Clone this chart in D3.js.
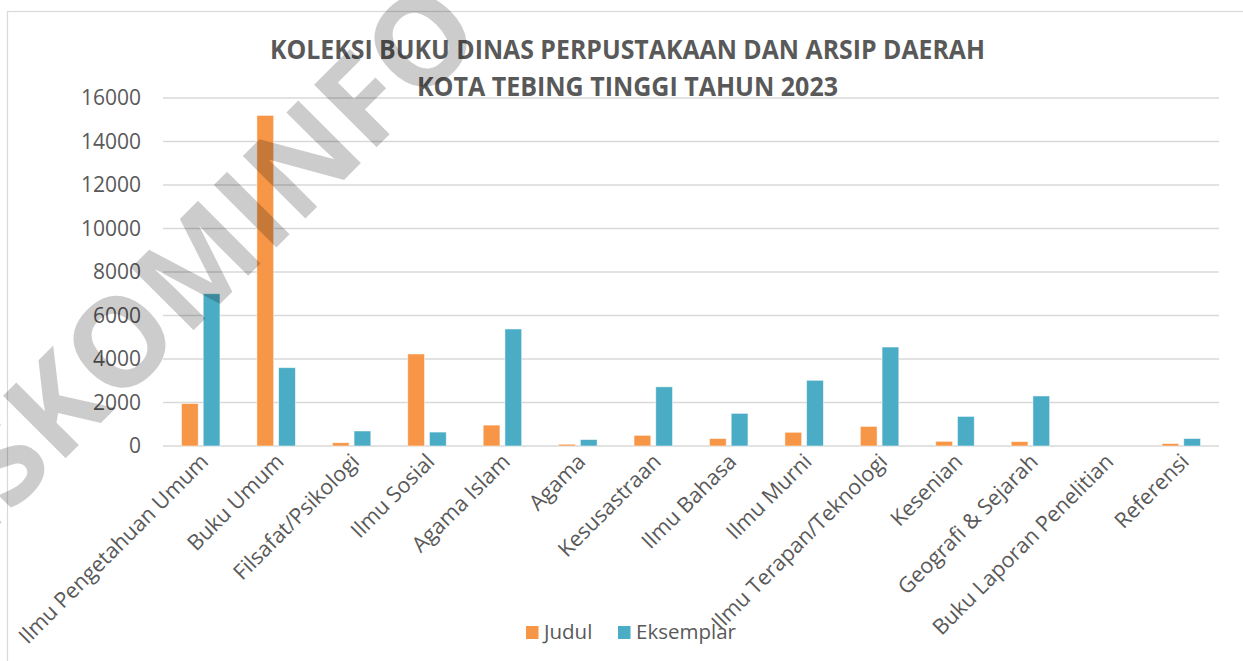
<!DOCTYPE html>
<html>
<head>
<meta charset="utf-8">
<script src="https://cdn.jsdelivr.net/npm/d3@7"></script>
<style>
  html, body { margin: 0; padding: 0; background: #fff; }
  svg { display: block; font-family: "Open Sans", sans-serif; }
</style>
</head>
<body>
<div id="chart"></div>
<script>
// data
const categories = [
  "Ilmu Pengetahuan Umum", "Buku Umum", "Filsafat/Psikologi", "Ilmu Sosial",
  "Agama Islam", "Agama", "Kesusastraan", "Ilmu Bahasa", "Ilmu Murni",
  "Ilmu Terapan/Teknologi", "Kesenian", "Geografi & Sejarah",
  "Buku Laporan Penelitian", "Referensi"
];
const judul     = [1950, 15200, 150, 4230, 960, 80, 490, 340, 630, 900, 215, 200, 0, 110];
const eksemplar = [7000, 3600, 690, 640, 5380, 295, 2720, 1500, 3020, 4550, 1360, 2300, 0, 340];
const seriesNames = ["Judul", "Eksemplar"];
const seriesColors = ["#F79646", "#4BACC6"];
const yTicks = [0, 2000, 4000, 6000, 8000, 10000, 12000, 14000, 16000];
const titleLines = [
  "KOLEKSI BUKU DINAS PERPUSTAKAAN DAN ARSIP DAERAH",
  "KOTA TEBING TINGGI TAHUN 2023"
];

const width = 1243, height = 661;
const margin = {top: 98, right: 24, bottom: 215, left: 163};

const svg = d3.select("#chart").append("svg")
    .attr("width", width)
    .attr("height", height)
    .attr("viewBox", `0 0 ${width} ${height}`);

// chart frame
svg.append("rect")
    .attr("x", 7.5).attr("y", 11.5)
    .attr("width", width + 20).attr("height", height + 20)
    .attr("fill", "#fff")
    .attr("stroke", "#d9d9d9")
    .attr("stroke-width", 1.2);

const x0 = d3.scaleBand()
    .domain(categories)
    .range([margin.left, width - margin.right])
    .paddingInner(0.49)
    .paddingOuter(0.245);

const x1 = d3.scaleBand()
    .domain(seriesNames)
    .range([0, x0.bandwidth()])
    .paddingInner(0.23);

const y = d3.scaleLinear()
    .domain([0, 16000])
    .range([height - margin.bottom, margin.top]);

// gridlines
svg.append("g")
    .selectAll("line")
    .data(yTicks)
    .join("line")
    .attr("x1", margin.left).attr("x2", width - margin.right)
    .attr("y1", d => y(d)).attr("y2", d => y(d))
    .attr("stroke", "#d9d9d9")
    .attr("stroke-width", 1.5);

// y axis labels
const yAxis = svg.append("g")
    .attr("transform", `translate(${margin.left - 22},0)`)
    .call(d3.axisLeft(y).tickValues(yTicks).tickSize(0).tickPadding(0).tickFormat(d3.format("d")));
yAxis.select(".domain").remove();
yAxis.selectAll("text")
    .attr("fill", "#595959")
    .style("font-size", "21px")
    .style("font-family", "'Open Sans', sans-serif");

// bars
const rows = categories.map((c, i) => ({cat: c, values: [judul[i], eksemplar[i]]}));
const groups = svg.append("g")
    .selectAll("g")
    .data(rows)
    .join("g")
    .attr("transform", d => `translate(${x0(d.cat)},0)`);

groups.selectAll("rect")
    .data(d => d.values.map((v, k) => ({name: seriesNames[k], value: v, color: seriesColors[k]})))
    .join("rect")
    .attr("x", d => x1(d.name))
    .attr("y", d => y(d.value))
    .attr("width", x1.bandwidth())
    .attr("height", d => y(0) - y(d.value))
    .attr("fill", d => d.color)
    .attr("stroke", "#fff")
    .attr("stroke-opacity", 0.6)
    .attr("stroke-width", 0.8);

// category labels, rotated
svg.append("g")
    .selectAll("text")
    .data(categories)
    .join("text")
    .attr("transform", d => `translate(${x0(d) + x0.bandwidth() / 2 - 2},${y(0) + 6}) rotate(-45)`)
    .attr("text-anchor", "end")
    .attr("dy", "0.72em")
    .attr("fill", "#595959")
    .style("font-size", "21.5px")
    .text(d => d);

// title
svg.append("g")
    .selectAll("text")
    .data(titleLines)
    .join("text")
    .attr("x", 627.5)
    .attr("y", (d, i) => 59 + i * 37)
    .attr("text-anchor", "middle")
    .attr("fill", "#595959")
    .attr("font-weight", "bold")
    .attr("textLength", (d, i) => i === 0 ? 715 : 421)
    .attr("lengthAdjust", "spacingAndGlyphs")
    .style("font-size", "26px")
    .text(d => d);

// legend
const legendItems = [
  {name: "Judul", color: seriesColors[0], x: 526},
  {name: "Eksemplar", color: seriesColors[1], x: 618}
];
const legend = svg.append("g");
legend.selectAll("rect")
    .data(legendItems)
    .join("rect")
    .attr("x", d => d.x).attr("y", 626)
    .attr("width", 12.5).attr("height", 13)
    .attr("fill", d => d.color);
legend.selectAll("text")
    .data(legendItems)
    .join("text")
    .attr("x", d => d.x + 18)
    .attr("y", 639)
    .attr("fill", "#595959")
    .style("font-size", "20.5px")
    .text(d => d.name);

// watermark overlay, first "O" left edge sits at the group origin
const wm = svg.append("g")
    .attr("transform", "translate(116,408) rotate(-45)");
const wmText = wm.append("text")
    .attr("fill", "#000")
    .attr("fill-opacity", 0.2)
    .attr("font-weight", "bold")
    .style("font-size", "124px")
    .text("DISKOMINFO");
const lead = wmText.node().getSubStringLength(0, 4);
wmText.attr("x", -lead);
</script>
</body>
</html>
